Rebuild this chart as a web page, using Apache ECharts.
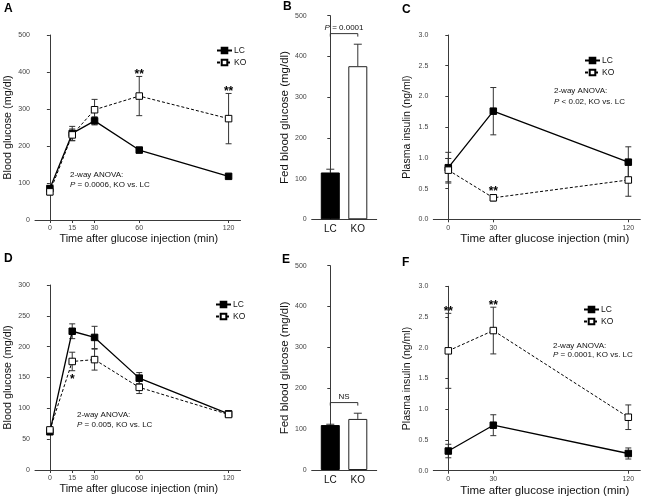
<!DOCTYPE html>
<html>
<head>
<meta charset="utf-8">
<script src="https://cdn.jsdelivr.net/npm/echarts@6/dist/echarts.min.js"></script>
<style>
html,body{margin:0;padding:0;background:#fff;}
#chart{width:653px;height:499px;}
</style>
</head>
<body>
<div id="chart"></div>
<script>
// ---------- DATA ----------
const timesAD = [0, 15, 30, 60, 120];
const timesCF = [0, 30, 120];
const barCats = ['LC', 'KO'];

// Panel A
const aLC = [85, 234, 268, 189, 118];
const aLCerr = [8, 19, 11, 7, 4];
const aKO = [76, 230, 298, 335, 274];
const aKOerr = [8, 16, 28, 53, 68];
const aSig = ['', '', '', '**', '**'];

// Panel B
const bVals = [115, 376];
const bErr = [8, 54];
const bTest = 'P = 0.0001';

// Panel C
const cLC = [0.84, 1.76, 0.93];
const cLCerr = [0.25, 0.385, 0.25];
const cKO = [0.80, 0.35, 0.64];
const cKOerr = [0.19, 0.05, 0.265];
const cSig = ['', '**', ''];

// Panel D
const dLC = [62, 225, 215, 149, 91];
const dLCerr = [3, 12, 18, 9, 4];
const dKO = [65, 176, 179, 134, 90];
const dKOerr = [4, 15, 17, 10, 4];
const dSig = ['', '*', '', '', ''];

// Panel E
const eVals = [110, 125];
const eErr = [2, 14];
const eTest = 'NS';

// Panel F
const fLC = [0.32, 0.74, 0.28];
const fLCerr = [0.11, 0.17, 0.09];
const fKO = [1.95, 2.28, 0.87];
const fKOerr = [0.61, 0.38, 0.20];
const fSig = ['**', '**', ''];

const xTitle = 'Time after glucose injection (min)';
const glucTitle = 'Blood glucose (mg/dl)';
const fedTitle = 'Fed blood glucose (mg/dl)';
const insTitle = 'Plasma insulin (ng/ml)';

// ---------- HELPERS ----------
const FONT = '"Liberation Sans", Arial, Helvetica, sans-serif';
const AX = '#3a3a3a';

function yAx(gi, max, interval, name, gap, nameSize) {
  return {
    type: 'value', gridIndex: gi, min: 0, max: max, interval: interval,
    axisLine: {show: true, lineStyle: {color: AX, width: 1}},
    axisTick: {show: true, length: 3, lineStyle: {color: AX, width: 1}},
    axisLabel: {fontSize: 7, color: '#444', margin: 5, fontFamily: FONT,
      formatter: v => (interval < 1 ? v.toFixed(1) : String(v))},
    splitLine: {show: false},
    name: name, nameLocation: 'middle', nameGap: gap,
    nameTextStyle: {fontSize: nameSize, color: '#111', fontFamily: FONT}
  };
}
function xAxTime(gi, times, nameSize, shift) {
  return {
    type: 'value', gridIndex: gi, min: -10, max: 128,
    axisLine: {show: true, lineStyle: {color: AX, width: 1}},
    axisTick: {show: true, length: 3, customValues: times, lineStyle: {color: AX, width: 1}},
    axisLabel: {fontSize: 7, color: '#444', margin: 5, customValues: times, fontFamily: FONT},
    splitLine: {show: false},
    name: xTitle, nameLocation: 'middle', nameGap: 14,
    nameTextStyle: {fontSize: nameSize, color: '#111', fontFamily: FONT,
      padding: [0, 0, 0, shift]}
  };
}
function xAxBar(gi) {
  return {
    type: 'value', gridIndex: gi, min: -0.676, max: 1.687,
    axisLine: {show: true, lineStyle: {color: AX, width: 1}},
    axisTick: {show: false},
    axisLabel: {fontSize: 10, color: '#111', margin: 5, customValues: [0, 1],
      formatter: v => barCats[Math.round(v)], fontFamily: FONT},
    splitLine: {show: false}
  };
}
function pairs(times, vals) { return times.map((t, i) => [t, vals[i]]); }
function triples(times, vals, errs) { return times.map((t, i) => [t, vals[i], errs[i]]); }

function lineSeries(name, gi, times, vals, dashed) {
  return {
    type: 'line', name: name, xAxisIndex: gi, yAxisIndex: gi,
    data: pairs(times, vals),
    symbol: 'rect', symbolSize: 6.5, z: 5,
    lineStyle: {color: '#000', width: dashed ? 1 : 1.3, type: dashed ? [3, 2] : 'solid'},
    itemStyle: dashed ? {color: '#fff', borderColor: '#000', borderWidth: 1}
                      : {color: '#000', borderColor: '#000', borderWidth: 1}
  };
}
function errSeries(gi, times, vals, errs, upOnly, capHalf) {
  return {
    type: 'custom', name: 'err' + gi, xAxisIndex: gi, yAxisIndex: gi, z: 3,
    data: triples(times, vals, errs),
    renderItem: function (params, api) {
      const x = api.value(0), y = api.value(1), e = api.value(2);
      const pT = api.coord([x, y + e]);
      const pB = api.coord([x, upOnly ? y : y - e]);
      const st = {stroke: '#333', lineWidth: 1};
      const ch = [
        {type: 'line', shape: {x1: pT[0], y1: pT[1], x2: pB[0], y2: pB[1]}, style: st},
        {type: 'line', shape: {x1: pT[0] - capHalf, y1: pT[1], x2: pT[0] + capHalf, y2: pT[1]}, style: st}
      ];
      if (!upOnly) ch.push({type: 'line', shape: {x1: pB[0] - capHalf, y1: pB[1], x2: pB[0] + capHalf, y2: pB[1]}, style: st});
      return {type: 'group', children: ch};
    }
  };
}
function sigSeries(gi, times, vals, errs, sig, dir) {
  const data = [], labels = [];
  times.forEach((t, i) => {
    if (sig[i]) { data.push([t, vals[i] + dir * errs[i], vals[i]]); labels.push(sig[i]); }
  });
  return {
    type: 'custom', name: 'sig' + gi, xAxisIndex: gi, yAxisIndex: gi, z: 6,
    data: data,
    renderItem: function (params, api) {
      const p = api.coord([api.value(0), api.value(1)]);
      const m = api.coord([api.value(0), api.value(2)]);
      let yy;
      if (dir > 0) yy = Math.min(p[1], m[1] - 4) - 2;
      else yy = Math.max(p[1], m[1] + 4) + 9;
      return {type: 'text', x: p[0], y: yy,
        style: {text: labels[params.dataIndex], textAlign: 'center', textVerticalAlign: 'middle',
          fontSize: 12, fontWeight: 'bold', fill: '#000', fontFamily: FONT}};
    }
  };
}
function barSeries(gi, vals) {
  return {
    type: 'bar', name: 'bar' + gi, xAxisIndex: gi, yAxisIndex: gi, barWidth: 19, z: 2,
    data: vals.map((v, i) => ({value: [i, v],
      itemStyle: i === 0 ? {color: '#000', borderColor: '#000', borderWidth: 1}
                         : {color: '#fff', borderColor: '#222', borderWidth: 1}}))
  };
}
function bracketSeries(gi, yVal, text) {
  return {
    type: 'custom', name: 'br' + gi, xAxisIndex: gi, yAxisIndex: gi, z: 6,
    data: [[0, 1, yVal]],
    renderItem: function (params, api) {
      const a = api.coord([api.value(0), api.value(2)]);
      const b = api.coord([api.value(1), api.value(2)]);
      const st = {stroke: '#333', lineWidth: 1, fill: null};
      const isP = text.charAt(0) === 'P';
      return {type: 'group', children: [
        {type: 'polyline', shape: {points: [[a[0], a[1] + 3], [a[0], a[1]], [b[0], b[1]], [b[0], b[1] + 3]]}, style: st},
        {type: 'text', x: (a[0] + b[0]) / 2, y: a[1] - 2,
          style: {text: isP ? '{i|P}' + text.slice(1) : text, textAlign: 'center', textVerticalAlign: 'bottom',
            fontSize: 8, fill: '#111', fontFamily: FONT,
            rich: {i: {fontStyle: 'italic', fontSize: 8, fontFamily: FONT}}}}
      ]};
    }
  };
}
function annot(x, y1, y2, line1, line2) {
  return [
    {type: 'text', left: x, top: y1, style: {text: line1, fontSize: 8, fill: '#111', fontFamily: FONT}},
    {type: 'text', left: x, top: y2, style: {text: '{i|P}' + line2, fontSize: 8, fill: '#111', fontFamily: FONT,
      rich: {i: {fontStyle: 'italic', fontSize: 8, fontFamily: FONT}}}}
  ];
}
function panelLetter(ch, x, y) {
  return {type: 'text', left: x, top: y, style: {text: ch, fontSize: 12, fontWeight: 'bold', fill: '#000', fontFamily: FONT}};
}
function legendAt(x, y) {
  return {
    data: ['LC', 'KO'], orient: 'vertical', left: x, top: y,
    itemWidth: 15, itemHeight: 7, itemGap: 3, selectedMode: false,
    textStyle: {fontSize: 8.5, color: '#111', fontFamily: FONT, padding: [0, 0, 0, -3]},
    padding: 0
  };
}

// ---------- OPTION ----------
const option = {
  animation: false,
  backgroundColor: '#fff',
  textStyle: {fontFamily: FONT},
  grid: [
    {left: 35, top: 35, width: 205.5, height: 185},
    {left: 311.7, top: 15.7, width: 65, height: 203.6},
    {left: 433.3, top: 35, width: 207, height: 184.3},
    {left: 35, top: 285, width: 205.5, height: 185},
    {left: 311.7, top: 265.7, width: 65, height: 204.3},
    {left: 433.3, top: 286.3, width: 207, height: 184.4}
  ],
  xAxis: [
    xAxTime(0, timesAD, 10.8, 2),
    xAxBar(1),
    xAxTime(2, timesCF, 11.5, 16),
    xAxTime(3, timesAD, 10.8, 2),
    xAxBar(4),
    xAxTime(5, timesCF, 11.5, 16)
  ],
  yAxis: [
    yAx(0, 500, 100, glucTitle, 21, 10.8),
    yAx(1, 500, 100, fedTitle, 19, 11.5),
    yAx(2, 3, 0.5, insTitle, 21, 10.5),
    yAx(3, 300, 50, glucTitle, 21, 10.8),
    yAx(4, 500, 100, fedTitle, 19, 11.5),
    yAx(5, 3, 0.5, insTitle, 21, 10.5)
  ],
  legend: [legendAt(216, 46), legendAt(584, 56), legendAt(215, 300), legendAt(583, 305)],
  series: [
    // A
    errSeries(0, timesAD, aKO, aKOerr, false, 3),
    errSeries(0, timesAD, aLC, aLCerr, false, 3),
    lineSeries('LC', 0, timesAD, aLC, false),
    lineSeries('KO', 0, timesAD, aKO, true),
    sigSeries(0, timesAD, aKO, aKOerr, aSig, 1),
    // B
    barSeries(1, bVals),
    errSeries(1, [0, 1], bVals, bErr, true, 4),
    bracketSeries(1, 456, bTest),
    // C
    errSeries(2, timesCF, cKO, cKOerr, false, 3),
    errSeries(2, timesCF, cLC, cLCerr, false, 3),
    lineSeries('LC', 2, timesCF, cLC, false),
    lineSeries('KO', 2, timesCF, cKO, true),
    sigSeries(2, timesCF, cKO, cKOerr, cSig, 1),
    // D
    errSeries(3, timesAD, dKO, dKOerr, false, 3),
    errSeries(3, timesAD, dLC, dLCerr, false, 3),
    lineSeries('LC', 3, timesAD, dLC, false),
    lineSeries('KO', 3, timesAD, dKO, true),
    sigSeries(3, timesAD, dKO, dKOerr, dSig, -1),
    // E
    barSeries(4, eVals),
    errSeries(4, [0, 1], eVals, eErr, true, 4),
    bracketSeries(4, 165, eTest),
    // F
    errSeries(5, timesCF, fKO, fKOerr, false, 3),
    errSeries(5, timesCF, fLC, fLCerr, false, 3),
    lineSeries('LC', 5, timesCF, fLC, false),
    lineSeries('KO', 5, timesCF, fKO, true),
    sigSeries(5, timesCF, fKO, fKOerr, fSig, 1)
  ],
  graphic: [
    panelLetter('A', 4, 3),
    panelLetter('B', 283, 1),
    panelLetter('C', 402, 4),
    panelLetter('D', 4, 253),
    panelLetter('E', 282, 254),
    panelLetter('F', 402, 257)
  ].concat(
    annot(70, 171, 181, '2-way ANOVA:', ' = 0.0006, KO vs. LC'),
    annot(554, 87, 98, '2-way ANOVA:', ' < 0.02, KO vs. LC'),
    annot(77, 411, 421, '2-way ANOVA:', ' = 0.005, KO vs. LC'),
    annot(553, 342, 351, '2-way ANOVA:', ' = 0.0001, KO vs. LC')
  )
};

const chart = echarts.init(document.getElementById('chart'), null, {renderer: 'canvas'});
chart.setOption(option);
</script>
</body>
</html>
